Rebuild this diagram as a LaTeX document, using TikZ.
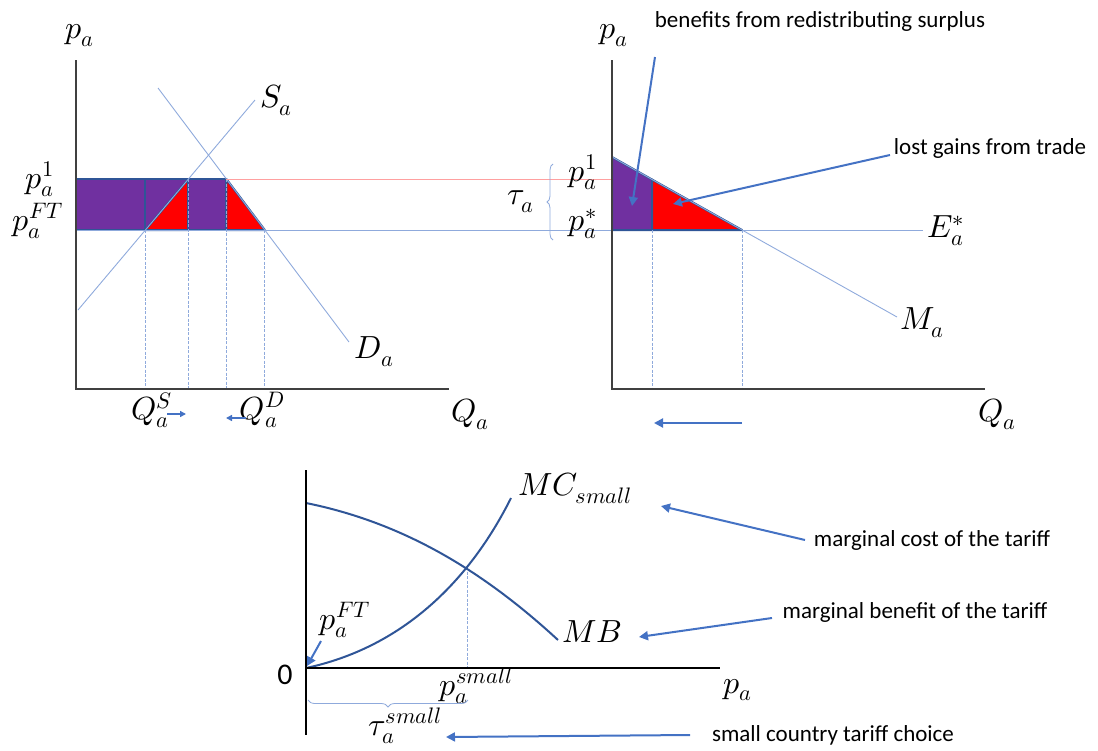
\documentclass[tikz,border=0pt]{standalone}
\usepackage{fontspec}
\usepackage{unicode-math}
\setmainfont{Carlito}
\setmathfont{Latin Modern Math}
\usetikzlibrary{arrows.meta,decorations.pathreplacing}
\definecolor{purp}{HTML}{7030A0}
\definecolor{dkblue}{HTML}{2F5597}
\definecolor{ltblue}{HTML}{8FAADC}
\definecolor{arrblue}{HTML}{4472C4}
\definecolor{pinkl}{HTML}{FFA0A0}
\definecolor{axisgray}{HTML}{404040}
\tikzset{
  ml/.style={font=\fontsize{32}{36}\selectfont, inner sep=0pt},
  tl/.style={font=\fontsize{23}{26}\selectfont, inner sep=0pt},
  axisline/.style={draw=axisgray, line width=2pt},
  curveline/.style={draw=ltblue, line width=0.9pt},
  guide/.style={draw=ltblue, line width=0.8pt, dash pattern=on 3pt off 1.5pt},
  purparea/.style={fill=purp, draw=dkblue, line width=2pt, line join=round},
  redarea/.style={fill=red, draw=dkblue, line width=2pt, line join=round},
  callout/.style={draw=arrblue, line width=2pt, -{Triangle[length=9pt,width=9pt]}},
  smallarr/.style={draw=arrblue, line width=1.5pt, -{Triangle[length=6pt,width=6pt]}},
  bigcurve/.style={draw=dkblue, line width=2pt},
  bracestyle/.style={draw=ltblue, line width=0.8pt, decorate}
}
\begin{document}
\begin{tikzpicture}[x=1pt,y=-1pt]
\useasboundingbox (0,0) rectangle (1098,750);

% ---------- left graph ----------
\coordinate (L0) at (76,389);
\coordinate (Ltop) at (76,60);
\coordinate (Lright) at (449,389);
\coordinate (S0) at (78,310);
\coordinate (S1) at (255,100);
\coordinate (D0) at (158,88);
\coordinate (D1) at (349,342);
\coordinate (A) at (145.4,230);
\coordinate (B) at (188.4,179);
\coordinate (C) at (226.4,179);
\coordinate (E) at (264.8,230);

% areas
\path[purparea] (76,179) rectangle (A);
\path[purparea] (145.4,179) rectangle (188.4,230);
\path[redarea] (A) -- (B) -- (188.4,230) -- cycle;
\path[purparea] (B) rectangle (226.4,230);
\path[redarea] (C) -- (E) -- (226.4,230) -- cycle;

% guide lines
\draw[guide] (A) -- (145.4,389);
\draw[guide] (B) -- (188.4,389);
\draw[guide] (C) -- (226.4,389);
\draw[guide] (E) -- (264.8,389);

% supply & demand
\draw[curveline] (S0) -- (S1);
\draw[curveline] (D0) -- (D1);

% price lines
\coordinate (FTend) at (923,230);
\draw[draw=ltblue, line width=0.9pt] (76,230) -- (FTend);
\coordinate (P1r) at (652,179);
\draw[draw=pinkl, line width=1pt] (C) -- (P1r);

\draw[axisline] (Ltop) -- (L0) -- (Lright);

\node[ml] (lpa) at (80,36) {$p_a$};
\node[ml] (lSa) at (276,100) {$S_a$};
\node[ml] (lp1) at (40,179) {$p_a^1$};
\node[ml] (lpft) at (38,221) {$p_a^{FT}$};
\node[ml] (lDa) at (374,352) {$D_a$};
\node[ml] (lQS) at (152,410) {$Q_a^S$};
\node[ml] (lQD) at (262,410) {$Q_a^D$};
\node[ml] (lQa) at (470,414) {$Q_a$};
\coordinate (qs1) at (167,414);
\coordinate (qs2) at (186,414);
\coordinate (qd1) at (246,418);
\coordinate (qd2) at (226,418);
\draw[smallarr] (qs1) -- (qs2);
\draw[smallarr] (qd1) -- (qd2);

% ---------- right graph ----------
\coordinate (R0) at (612,389);
\coordinate (Rtop) at (612,60);
\coordinate (Rright) at (985,389);
\coordinate (M0) at (612,157);
\coordinate (M1) at (897,317);
\coordinate (F) at (652,179.5);
\coordinate (G) at (742,230);

\path[purparea] (M0) -- (F) -- (652,230) -- (612,230) -- cycle;
\path[redarea] (F) -- (G) -- (652,230) -- cycle;
\draw[guide] (652,230) -- (652,389);
\draw[guide] (G) -- (742,389);
\draw[curveline] (M0) -- (M1);
\draw[axisline] (Rtop) -- (R0) -- (Rright);

\node[ml] (rpa) at (614,36) {$p_a$};
\node[ml] (rp1) at (583,172) {$p_a^1$};
\node[ml] (rps) at (583,224) {$p_a^*$};
\node[ml] (rtau) at (521,202) {$\tau_a$};
\node[ml] (rEa) at (946,231) {$E_a^*$};
\node[ml] (rMa) at (922,323) {$M_a$};
\node[ml] (rQa) at (997,414) {$Q_a$};
\draw[bracestyle, decoration={brace, amplitude=6pt}] (553,240) -- (553,164);

\coordinate (ra1) at (742,423);
\coordinate (ra2) at (654,423);
\draw[callout] (ra1) -- (ra2);

\node[tl] (tben) at (820,21) {benefits from redistributing surplus};
\coordinate (ben1) at (655,57);
\coordinate (ben2) at (632,206);
\draw[callout] (ben1) -- (ben2);
\node[tl] (tlost) at (990,148) {lost gains from trade};
\coordinate (lost1) at (890,155);
\coordinate (lost2) at (673,204);
\draw[callout] (lost1) -- (lost2);

% ---------- bottom graph ----------
\coordinate (B0) at (306,668);
\coordinate (Btop) at (306,470);
\coordinate (Bbot) at (306,735);
\coordinate (Bright) at (720,668);
\coordinate (X) at (467,567);
\draw[guide] (X) -- (467,668);
\draw[bigcurve] (306,503) .. controls (400,522) and (480,568) .. (558,640);
\draw[bigcurve] (B0) .. controls (400,648) and (468,584) .. (511,498);
\draw[draw=black, line width=2pt] (Btop) -- (Bbot);
\draw[draw=black, line width=2pt] (B0) -- (Bright);

\node[ml] (bMC) at (575,488) {$MC_{small}$};
\node[ml] (bMB) at (592,632) {$MB$};
\node[font=\fontsize{30}{32}\selectfont, inner sep=0pt] (b0) at (285,675) {0};
\node[ml] (bpft) at (345,620) {$p_a^{FT}$};
\node[ml] (bps) at (476,686) {$p_a^{small}$};
\node[ml] (btau) at (405,726) {$\tau_a^{small}$};
\node[ml] (bpa) at (738,690) {$p_a$};
\draw[bracestyle, decoration={brace, amplitude=7pt, mirror}] (308,700) -- (468,700);

\coordinate (pf1) at (321,641);
\coordinate (pf2) at (307,666);
\draw[callout] (pf1) -- (pf2);

\node[tl] (tmc) at (932,540) {marginal cost of the tariff};
\coordinate (mc1) at (805,540);
\coordinate (mc2) at (661,506);
\draw[callout] (mc1) -- (mc2);
\node[tl] (tmb) at (915,612) {marginal benefit of the tariff};
\coordinate (mb1) at (772,618);
\coordinate (mb2) at (639,637);
\draw[callout] (mb1) -- (mb2);
\node[tl] (tsc) at (833,735) {small country tariff choice};
\coordinate (sc1) at (690,735);
\coordinate (sc2) at (446,737);
\draw[callout] (sc1) -- (sc2);
\end{tikzpicture}
\end{document}
